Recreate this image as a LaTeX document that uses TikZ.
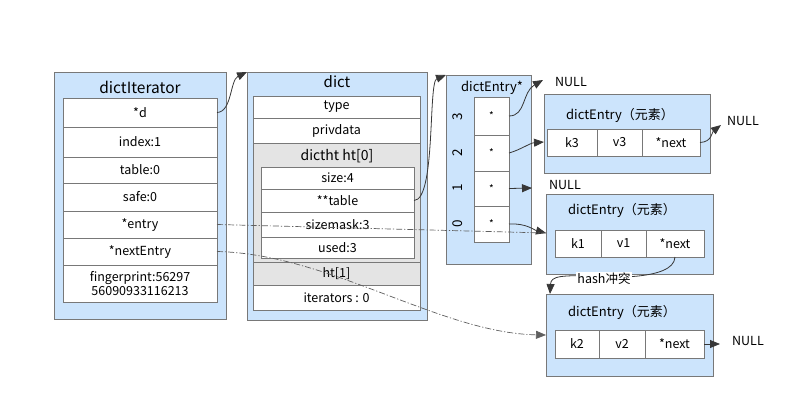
\documentclass[tikz,border=0pt]{standalone}
\usepackage{fontspec}
\setmainfont{Noto Sans CJK SC}
\usetikzlibrary{arrows.meta}
\definecolor{blueF}{RGB}{204,228,252}
\definecolor{bordc}{RGB}{120,120,120}
\definecolor{grayF}{RGB}{228,228,228}
\definecolor{linec}{RGB}{55,55,55}
\newcommand\fsz[1]{\fontsize{#1}{#1}\selectfont}
\tikzset{
  x=1pt, y=-1pt,
  outerbox/.style={draw=bordc, fill=blueF, line width=1pt, inner sep=0pt, outer sep=0pt, anchor=north west},
  cellbox/.style={draw=bordc, fill=white, line width=0.9pt, inner sep=0pt, outer sep=0pt, anchor=north west, font=\fsz{12.5}},
  graybox/.style={cellbox, fill=grayF},
  ttl/.style={inner sep=0pt, font=\fsz{14}},
  lbl/.style={inner sep=0pt, font=\fsz{12.5}},
  conn/.style={draw=linec, line width=0.8pt, -{Triangle[length=10pt,width=8pt]}},
  dd/.style={draw=linec!80, line width=0.7pt, dash pattern=on 6pt off 2pt on 1.2pt off 2pt},
}
\begin{document}
\begin{tikzpicture}
\useasboundingbox (0,0) rectangle (812,410);
% dictIterator
\node[outerbox, minimum width=172pt, minimum height=247pt] (itOuter) at (54,72) {};
\node[ttl, font=\fsz{15.5}] (itTitle) at (140,87) {dictIterator};
\node[cellbox, minimum width=154pt, minimum height=29pt] (itd) at (63,98) {*d};
\node[cellbox, minimum width=154pt, minimum height=30pt] (itindex) at (63,127) {index:1};
\node[cellbox, minimum width=154pt, minimum height=26pt] (ittable) at (63,157) {table:0};
\node[cellbox, minimum width=154pt, minimum height=28pt] (itsafe) at (63,183) {safe:0};
\node[cellbox, minimum width=154pt, minimum height=27pt] (itentry) at (63,211) {*entry};
\node[cellbox, minimum width=154pt, minimum height=27pt] (itnext) at (63,238) {*nextEntry};
\node[cellbox, minimum width=154pt, minimum height=37pt, align=center] (itfp) at (63,265) {fingerprint:56297\\[1pt]56090933116213};
% dict
\node[outerbox, minimum width=180pt, minimum height=248pt] (dictOuter) at (247,72) {};
\node[ttl, font=\fsz{15}] (dictTitle) at (337,82) {dict};
\node[cellbox, minimum width=167pt, minimum height=22pt] (dtype) at (253,96) {type};
\node[cellbox, minimum width=167pt, minimum height=25pt] (dpriv) at (253,118) {privdata};
\node[graybox, minimum width=167pt, minimum height=119pt] (dht0) at (253,143) {};
\node[ttl] (dht0t) at (337,156) {dictht ht[0]};
\node[cellbox, minimum width=153pt, minimum height=22pt] (dsize) at (261,167) {size:4};
\node[cellbox, minimum width=153pt, minimum height=23pt] (dtable) at (261,189) {**table};
\node[cellbox, minimum width=153pt, minimum height=25pt] (dmask) at (261,212) {sizemask:3};
\node[cellbox, minimum width=153pt, minimum height=21pt] (dused) at (261,237) {used:3};
\node[graybox, minimum width=167pt, minimum height=23pt] (dht1) at (253,262) {ht[1]};
\node[cellbox, minimum width=167pt, minimum height=25pt] (diter) at (253,285) {iterators : 0};
% dictEntry* array
\node[outerbox, minimum width=85pt, minimum height=189pt] (arrOuter) at (446,75) {};
\node[ttl, font=\fsz{13}] (arrTitle) at (492,88) {dictEntry*};
\node[cellbox, minimum width=35pt, minimum height=38pt, font=\fsz{10}] (c3) at (474,97) {*};
\node[cellbox, minimum width=35pt, minimum height=36pt, font=\fsz{10}] (c2) at (474,135) {*};
\node[cellbox, minimum width=35pt, minimum height=35pt, font=\fsz{10}] (c1) at (474,171) {*};
\node[cellbox, minimum width=35pt, minimum height=36pt, font=\fsz{10}] (c0) at (474,206) {*};
\node[lbl, rotate=90, font=\fsz{13.5}] (i3) at (458,117) {3};
\node[lbl, rotate=90, font=\fsz{13.5}] (i2) at (458,153) {2};
\node[lbl, rotate=90, font=\fsz{13.5}] (i1) at (458,188) {1};
\node[lbl, rotate=90, font=\fsz{13.5}] (i0) at (458,224) {0};
% entry k3
\node[outerbox, minimum width=166pt, minimum height=79pt] (e3) at (544,94) {};
\node[ttl, font=\fsz{13}] (e3t) at (620,115) {dictEntry（元素）};
\node[cellbox, minimum width=50pt, minimum height=27pt] (k3) at (547,129) {k3};
\node[cellbox, minimum width=45pt, minimum height=27pt] (v3) at (597,129) {v3};
\node[cellbox, minimum width=58pt, minimum height=27pt] (n3) at (642,129) {*next};
% entry k1
\node[outerbox, minimum width=167pt, minimum height=80pt] (e1) at (546,194) {};
\node[ttl, font=\fsz{13}] (e1t) at (622,210) {dictEntry（元素）};
\node[cellbox, minimum width=46pt, minimum height=27pt] (k1) at (555,230) {k1};
\node[cellbox, minimum width=45pt, minimum height=27pt] (v1) at (601,230) {v1};
\node[cellbox, minimum width=58pt, minimum height=27pt] (n1) at (646,230) {*next};
% entry k2
\node[outerbox, minimum width=167pt, minimum height=82pt] (e2) at (546,294) {};
\node[ttl, font=\fsz{13}] (e2t) at (622,312) {dictEntry（元素）};
\node[cellbox, minimum width=44pt, minimum height=28pt] (k2) at (555,330) {k2};
\node[cellbox, minimum width=46pt, minimum height=28pt] (v2) at (599,330) {v2};
\node[cellbox, minimum width=59pt, minimum height=28pt] (n2) at (645,330) {*next};
% NULL labels
\node[lbl] (null3) at (571,82) {NULL};
\node[lbl] (nullr) at (743,121) {NULL};
\node[lbl] (null1) at (565,185) {NULL};
\node[lbl] (null2) at (748,341) {NULL};
% coordinates
\coordinate (a3) at (543,80);
\coordinate (a2) at (544,142);
\coordinate (a1) at (532,188);
\coordinate (a0) at (546,233);
\coordinate (ak2) at (546,335);
\coordinate (ar) at (721,125);
\coordinate (an2) at (720,344);
\coordinate (ahash) at (550,294);
% connectors
\draw[conn] (itd.east) .. controls (232,112) and (230,80) .. (dictOuter.north west);
\draw[conn] (dtable.east) .. controls (436,200) and (428,82) .. (arrOuter.north west);
\draw[conn] (c3.east) .. controls (526,116) and (522,92) .. (a3);
\draw[conn] (c2.east) .. controls (520,150) and (530,143) .. (a2);
\draw[conn] (c1.east) -- (a1);
\draw[conn] (c0.east) .. controls (526,223) and (534,230) .. (a0);
\draw[dd] (itentry.east) -- (a0);
\draw[dd, -{Triangle[length=10pt,width=8pt]}] (itnext.east) .. controls (330,254) and (440,333) .. (ak2);
\draw[conn] (n3.east) .. controls (712,142) and (712,132) .. (ar);
\draw[conn] (n2.east) -- (an2);
\draw[draw=linec, line width=0.8pt] (n1.south) .. controls (674,282) and (600,276) .. (600,278);
\draw[conn] (600,276) .. controls (560,275) and (551,276) .. (ahash);
\node[lbl, fill=white, inner sep=1pt] (hash) at (604,279) {hash冲突};
\end{tikzpicture}
\end{document}
